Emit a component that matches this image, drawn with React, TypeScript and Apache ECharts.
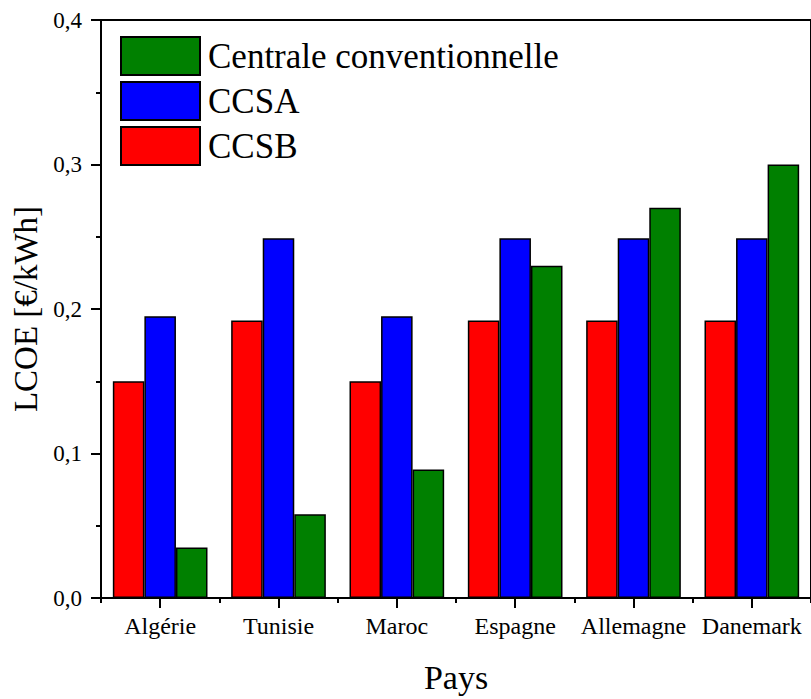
import React, { useEffect, useRef } from "react";
import * as echarts from "echarts";

const categories = ["Algérie", "Tunisie", "Maroc", "Espagne", "Allemagne", "Danemark"];
const ccsb = [0.15, 0.192, 0.15, 0.192, 0.192, 0.192];
const ccsa = [0.195, 0.249, 0.195, 0.249, 0.249, 0.249];
const centrale = [0.035, 0.058, 0.089, 0.23, 0.27, 0.3];
const legendOrder = ["Centrale conventionnelle", "CCSA", "CCSB"];

const FONT = "'Liberation Serif', 'Times New Roman', serif";

export default function App() {
  const ref = useRef<HTMLDivElement>(null);
  useEffect(() => {
    if (!ref.current) return;
    const chart = echarts.init(ref.current, null, { renderer: "svg" });
    const barStyle = (color: string) => ({
      color,
      borderColor: "#000",
      borderWidth: 1.5,
    });
    chart.setOption({
      animation: false,
      backgroundColor: "#fff",
      textStyle: { fontFamily: FONT, color: "#000" },
      grid: {
        left: 101,
        top: 20,
        right: -4,
        bottom: 101,
        show: true,
        borderColor: "#000",
        borderWidth: 2,
        backgroundColor: "transparent",
      },
      legend: {
        orient: "vertical",
        left: 120,
        top: 36,
        padding: 0,
        itemWidth: 79,
        itemHeight: 38,
        itemGap: 5,
        icon: "rect",
        data: legendOrder,
        textStyle: { fontSize: 35, fontFamily: FONT, color: "#000", padding: [0, 0, 0, 3] },
      },
      xAxis: [
        {
          type: "category",
          data: categories,
          position: "bottom",
          name: "Pays",
          nameLocation: "middle",
          nameGap: 62,
          nameTextStyle: { fontSize: 34, fontFamily: FONT, color: "#000" },
          axisLine: { show: true, lineStyle: { color: "#000", width: 2 } },
          axisTick: { show: true, alignWithLabel: true, length: 10, lineStyle: { color: "#000", width: 2 } },
          axisLabel: { interval: 0, fontSize: 24, fontFamily: FONT, color: "#000", margin: 16 },
          splitLine: { show: false },
        },
        {
          type: "category",
          data: categories,
          position: "bottom",
          axisLine: { show: false },
          axisTick: { show: true, interval: 0, length: 5, lineStyle: { color: "#000", width: 2 } },
          axisLabel: { show: false },
          splitLine: { show: false },
        },
      ],
      yAxis: {
        type: "value",
        min: 0,
        max: 0.4,
        interval: 0.1,
        name: "LCOE [€/kWh]",
        nameLocation: "middle",
        nameRotate: 90,
        nameGap: 54,
        nameTextStyle: { fontSize: 33, fontFamily: FONT, color: "#000" },
        axisLine: { show: true, lineStyle: { color: "#000", width: 2 } },
        axisTick: { show: true, length: 10, lineStyle: { color: "#000", width: 2 } },
        minorTick: { show: true, splitNumber: 2, length: 5, lineStyle: { color: "#000", width: 2 } },
        axisLabel: {
          fontSize: 23,
          fontFamily: FONT,
          color: "#000",
          margin: 19,
          formatter: (v: number) => v.toFixed(1).replace(".", ","),
        },
        splitLine: { show: false },
        minorSplitLine: { show: false },
      },
      series: [
        { name: "CCSB", type: "bar", data: ccsb, xAxisIndex: 0, barGap: "0%", barCategoryGap: "20%", itemStyle: barStyle("#ff0000") },
        { name: "CCSA", type: "bar", data: ccsa, xAxisIndex: 0, barGap: "0%", barCategoryGap: "20%", itemStyle: barStyle("#0000ff") },
        { name: "Centrale conventionnelle", type: "bar", data: centrale, xAxisIndex: 0, barGap: "0%", barCategoryGap: "20%", itemStyle: barStyle("#008000") },
      ],
    });
    return () => chart.dispose();
  }, []);
  return (
    <div
      ref={ref}
      style={{ position: "absolute", left: 0, top: 0, width: 811, height: 699 }}
    />
  );
}
